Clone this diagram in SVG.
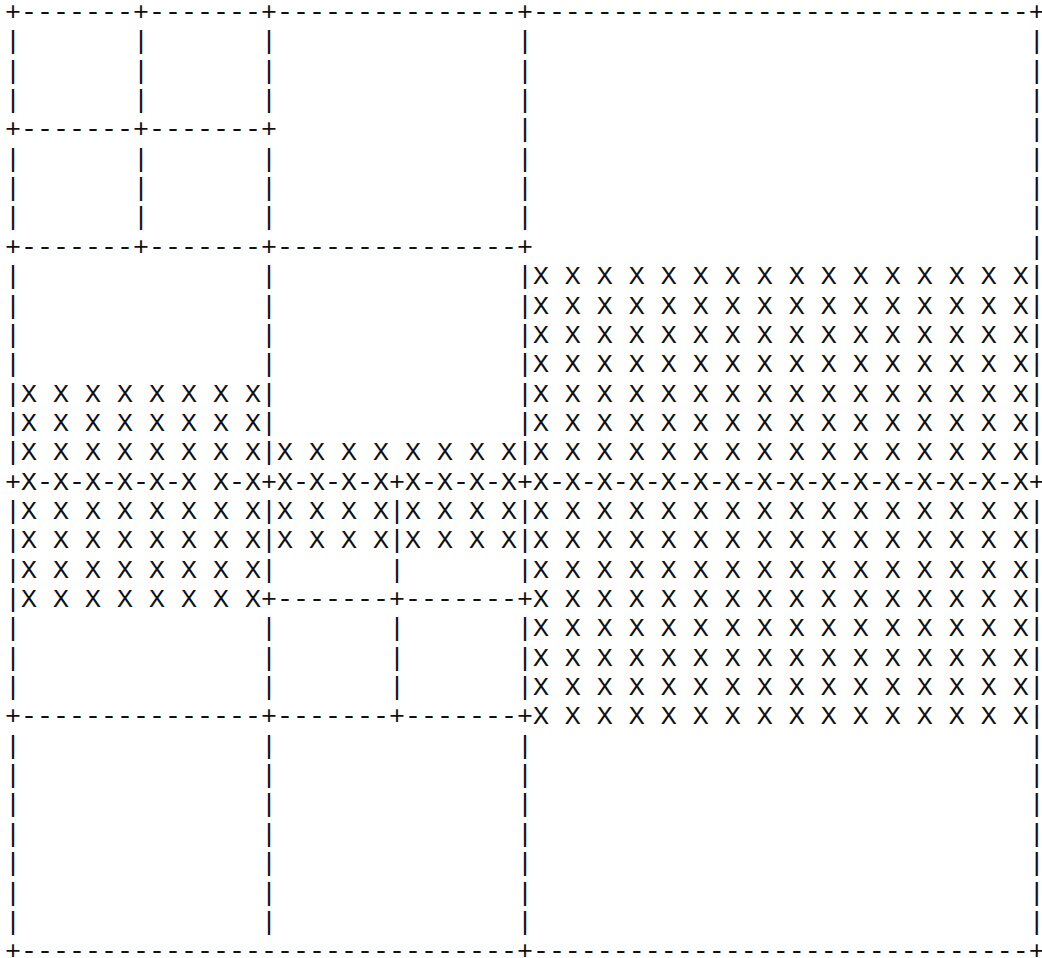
<svg xmlns="http://www.w3.org/2000/svg" width="1042" height="958" viewBox="0 0 1042 958">
<style>
.r{font-family:"Liberation Mono","Courier New",monospace;font-size:26.667px;fill:#111;white-space:pre}
.e{letter-spacing:-6px}
</style>
<rect width="1042" height="958" fill="#fff"/>
<g id="ascii" xml:space="preserve">
<text class="r" x="5" y="20">+-------+-------+---------------+-------------------------------<tspan class="e">+</tspan></text>
<text class="r" x="5" y="49.35">|       |       |               |                               <tspan class="e">|</tspan></text>
<text class="r" x="5" y="78.7">|       |       |               |                               <tspan class="e">|</tspan></text>
<text class="r" x="5" y="108.05">|       |       |               |                               <tspan class="e">|</tspan></text>
<text class="r" x="5" y="137.4">+-------+-------+               |                               <tspan class="e">|</tspan></text>
<text class="r" x="5" y="166.75">|       |       |               |                               <tspan class="e">|</tspan></text>
<text class="r" x="5" y="196.1">|       |       |               |                               <tspan class="e">|</tspan></text>
<text class="r" x="5" y="225.45">|       |       |               |                               <tspan class="e">|</tspan></text>
<text class="r" x="5" y="254.8">+-------+-------+---------------+                               <tspan class="e">|</tspan></text>
<text class="r" x="5" y="284.15">|               |               |X X X X X X X X X X X X X X X X<tspan class="e">|</tspan></text>
<text class="r" x="5" y="313.5">|               |               |X X X X X X X X X X X X X X X X<tspan class="e">|</tspan></text>
<text class="r" x="5" y="342.85">|               |               |X X X X X X X X X X X X X X X X<tspan class="e">|</tspan></text>
<text class="r" x="5" y="372.2">|               |               |X X X X X X X X X X X X X X X X<tspan class="e">|</tspan></text>
<text class="r" x="5" y="401.55">|X X X X X X X X|               |X X X X X X X X X X X X X X X X<tspan class="e">|</tspan></text>
<text class="r" x="5" y="430.9">|X X X X X X X X|               |X X X X X X X X X X X X X X X X<tspan class="e">|</tspan></text>
<text class="r" x="5" y="460.25">|X X X X X X X X|X X X X X X X X|X X X X X X X X X X X X X X X X<tspan class="e">|</tspan></text>
<text class="r" x="5" y="489.6">+X-X-X-X-X-X X-X+X-X-X-X+X-X-X-X+X-X-X-X-X-X-X-X-X-X-X-X-X-X-X-X<tspan class="e">+</tspan></text>
<text class="r" x="5" y="518.95">|X X X X X X X X|X X X X|X X X X|X X X X X X X X X X X X X X X X<tspan class="e">|</tspan></text>
<text class="r" x="5" y="548.3">|X X X X X X X X|X X X X|X X X X|X X X X X X X X X X X X X X X X<tspan class="e">|</tspan></text>
<text class="r" x="5" y="577.65">|X X X X X X X X|       |       |X X X X X X X X X X X X X X X X<tspan class="e">|</tspan></text>
<text class="r" x="5" y="607">|X X X X X X X X+-------+-------+X X X X X X X X X X X X X X X X<tspan class="e">|</tspan></text>
<text class="r" x="5" y="636.35">|               |       |       |X X X X X X X X X X X X X X X X<tspan class="e">|</tspan></text>
<text class="r" x="5" y="665.7">|               |       |       |X X X X X X X X X X X X X X X X<tspan class="e">|</tspan></text>
<text class="r" x="5" y="695.05">|               |       |       |X X X X X X X X X X X X X X X X<tspan class="e">|</tspan></text>
<text class="r" x="5" y="724.4">+---------------+-------+-------+X X X X X X X X X X X X X X X X<tspan class="e">|</tspan></text>
<text class="r" x="5" y="753.75">|               |               |                               <tspan class="e">|</tspan></text>
<text class="r" x="5" y="783.1">|               |               |                               <tspan class="e">|</tspan></text>
<text class="r" x="5" y="812.45">|               |               |                               <tspan class="e">|</tspan></text>
<text class="r" x="5" y="841.8">|               |               |                               <tspan class="e">|</tspan></text>
<text class="r" x="5" y="871.15">|               |               |                               <tspan class="e">|</tspan></text>
<text class="r" x="5" y="900.5">|               |               |                               <tspan class="e">|</tspan></text>
<text class="r" x="5" y="929.85">|               |               |                               <tspan class="e">|</tspan></text>
<text class="r" x="5" y="959.2">+-------------------------------+-------------------------------<tspan class="e">+</tspan></text>
</g>
</svg>
